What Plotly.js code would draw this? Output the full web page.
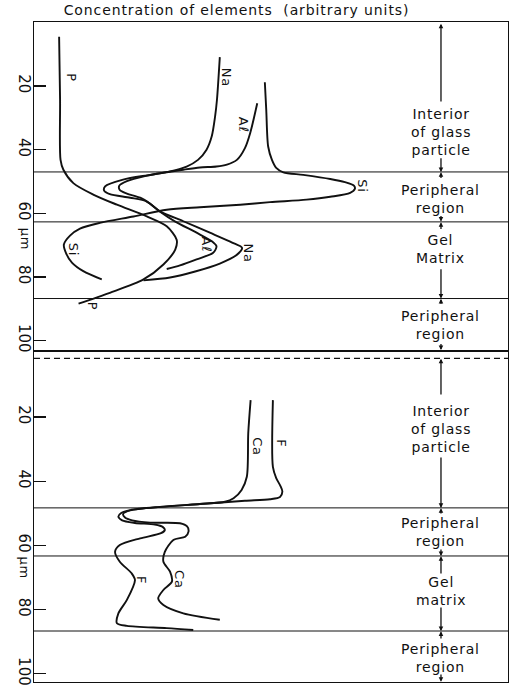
<!DOCTYPE html>
<html>
<head>
<meta charset="utf-8">
<script src="https://cdn.plot.ly/plotly-3.0.1.min.js"></script>
<style>
  html, body { margin: 0; padding: 0; background: #fff; }
  #chart { width: 516px; height: 688px; }
  text.gtitle { letter-spacing: 0.9px; }
  text.annotation-text { letter-spacing: 0.8px; }
</style>
</head>
<body>
<div id="chart"></div>
<script>
// ---------- DATA (concentration in arbitrary units, depth in µm) ----------
// Upper panel: P, Na, Al, Si
const P_conc  = [5.3,5.5,5.6,6.2,8.3,12.5,17.5,23.8,28.0,30.1,29.8,27.3,23.1,16.0,9.4];
const P_depth = [4.5,24.3,43.2,46.3,50.5,54.1,57.3,61.0,64.1,68.3,71.4,76.1,80.8,85.0,88.4];

const Na_conc  = [39.2,38.6,38.2,37.5,36.4,34.6,32.2,28.7,24.5,18.8,15.0,14.8,16.0,20.3,23.8,26.6,31.5,37.1,41.8,43.9,42.6,39.2,34.0,28.7,23.1];
const Na_depth = [10.9,24.3,29.6,35.8,40.0,43.2,45.3,46.8,47.9,49.4,51.5,52.9,54.0,55.1,56.3,59.4,62.5,66.1,69.2,70.9,73.3,75.8,78.3,80.2,81.1];

const Al_conc  = [47.1,45.6,44.5,42.8,40.7,38.5,35.0,31.5,28.0,23.4,19.6,18.0,18.1,19.6,22.4,24.5,26.6,29.8,34.3,37.6,38.5,37.8,34.3,30.8,28.0];
const Al_depth = [25.4,34.8,39.5,43.2,44.7,45.3,45.6,46.3,47.1,48.3,49.9,51.3,52.7,53.8,55.1,57.0,59.5,62.6,66.1,68.9,70.4,72.4,74.5,76.4,77.5];

const Si_conc  = [48.7,49.0,49.4,50.2,51.1,52.6,56.8,62.5,65.6,67.5,67.7,66.7,62.5,57.5,49.8,43.5,35.0,28.0,21.0,13.9,9.7,7.6,6.3,6.8,8.0,10.4,14.3];
const Si_depth = [18.8,27.5,39.0,43.2,45.7,47.1,47.9,49.2,50.2,51.3,52.3,53.6,54.8,55.7,56.5,57.3,58.1,58.9,61.0,63.0,64.8,67.0,69.8,72.7,75.5,78.2,80.8];

// Lower panel: Ca, F
const Ca_conc  = [45.7,45.2,44.9,43.8,42.1,40.3,35.0,26.6,20.3,18.8,19.2,20.7,24.5,30.8,32.3,32.6,31.9,29.4,27.6,27.3,28.7,29.1,27.3,26.2,27.3,31.5,39.2];
const Ca_depth = [14.7,25.0,38.6,42.7,45.3,46.4,47.1,48.0,49.1,50.2,51.3,52.2,52.9,53.1,54.1,55.7,57.3,58.3,62.0,65.1,68.2,71.3,73.9,76.5,78.6,81.2,83.2];

const F_conc  = [50.4,50.4,51.1,52.0,52.4,51.9,49.8,44.5,35.0,26.6,20.3,18.4,17.8,18.6,21.3,25.5,27.2,27.6,26.8,22.4,18.1,17.1,18.1,20.6,21.3,19.6,17.8,17.5,19.6,28.0,33.6];
const F_depth = [14.7,35.5,39.0,41.5,43.2,44.9,45.6,46.1,47.1,48.0,49.0,49.9,51.0,52.2,53.0,53.5,54.3,55.2,56.2,57.8,59.9,62.0,65.1,68.7,70.8,77.0,81.2,84.3,85.1,85.8,86.4];

// Region boundaries (µm)
const topBounds = [47.0, 62.7, 86.8];
const botBounds = [48.3, 63.3, 86.7];
const botStart  = 1.7;            // dashed line that opens the lower panel

// Tick values and texts
const depthTicks = [20, 40, 60, 80, 100];
const titleText = 'Concentration of elements \u00a0(arbitrary units)';

const regionTextsTop = ['Interior<br>of glass<br>particle', 'Peripheral<br>region', 'Gel<br>Matrix', 'Peripheral<br>region'];
const regionTextsBot = ['Interior<br>of glass<br>particle', 'Peripheral<br>region', 'Gel<br>matrix', 'Peripheral<br>region'];

// Curve labels: [text, conc, depth]
const labelsTop = [['P',7.9,17.4],['Na',40.5,17.4],['A\u2113',44.1,32.2],['Si',69.3,51.3],['Si',8.4,71.4],['A\u2113',36.5,69.8],['Na',45.2,72.4],['P',12.4,89.3]];
const labelsBot = [['Ca',47.0,29.3],['F',52.3,28.1],['F',22.8,70.8],['Ca',30.8,70.8]];

// ---------- LAYOUT CONSTANTS ----------
const FONT = 'DejaVu Sans, Verdana, sans-serif';
const BLACK = '#111';
const zoneX = 85.86;   // x of the dimension line (arbitrary-units scale)
const topTextY = [34.4, 55.5, 71.1, 95.0];
const botTextY = [23.7, 55.8, 74.2, 95.1];
const topArrows = [[0.4,25.3],[47.0,42.2],[47.1,49.4],[62.6,60.4],[62.8,65.4],[86.8,77.1],[86.9,88.9],[103.0,100.6]];
const botArrows = [[1.8,13.4],[48.3,32.1],[48.4,50.5],[63.3,60.8],[63.4,69.2],[86.7,78.9],[86.8,89.5],[102.5,99.8]];

function curve(xs, ys, xa, ya) {
  return { x: xs, y: ys, xaxis: xa, yaxis: ya, type: 'scatter', mode: 'lines',
           line: { color: BLACK, width: 1.9, shape: 'spline', smoothing: 0.8 },
           hoverinfo: 'skip', showlegend: false };
}

const data = [
  curve(P_conc, P_depth, 'x', 'y'),
  curve(Na_conc, Na_depth, 'x', 'y'),
  curve(Al_conc, Al_depth, 'x', 'y'),
  curve(Si_conc, Si_depth, 'x', 'y'),
  curve(Ca_conc, Ca_depth, 'x2', 'y2'),
  curve(F_conc, F_depth, 'x2', 'y2')
];

const shapes = [];
topBounds.forEach(b => shapes.push({ type: 'line', xref: 'paper', x0: 0, x1: 1, yref: 'y', y0: b, y1: b, line: { color: BLACK, width: 1 } }));
botBounds.forEach(b => shapes.push({ type: 'line', xref: 'paper', x0: 0, x1: 1, yref: 'y2', y0: b, y1: b, line: { color: BLACK, width: 1 } }));
shapes.push({ type: 'line', xref: 'paper', x0: 0, x1: 1, yref: 'y2', y0: botStart, y1: botStart, line: { color: BLACK, width: 1.2, dash: '6px,4px' } });

const annotations = [];
function regionTexts(texts, ys, xr, yr) {
  texts.forEach((t, i) => annotations.push({ text: t, x: zoneX, y: ys[i], xref: xr, yref: yr, showarrow: false,
    font: { family: FONT, size: 14, color: BLACK }, align: 'center', xanchor: 'center', yanchor: 'middle' }));
}
regionTexts(regionTextsTop, topTextY, 'x', 'y');
regionTexts(regionTextsBot, botTextY, 'x2', 'y2');

function arrows(list, xr, yr) {
  list.forEach(([head, tail]) => annotations.push({ text: '', x: zoneX, y: head, ax: zoneX, ay: tail,
    xref: xr, yref: yr, axref: xr, ayref: yr, showarrow: true, arrowhead: 2, arrowsize: 0.7,
    arrowwidth: 1.3, arrowcolor: BLACK, standoff: 0, startstandoff: 0 }));
}
arrows(topArrows, 'x', 'y');
arrows(botArrows, 'x2', 'y2');

function curveLabels(list, xr, yr) {
  list.forEach(([t, x, y]) => annotations.push({ text: t, x: x, y: y, xref: xr, yref: yr, showarrow: false,
    textangle: 90, font: { family: FONT, size: 13, color: BLACK }, xanchor: 'center', yanchor: 'middle' }));
}
curveLabels(labelsTop, 'x', 'y');
curveLabels(labelsBot, 'x2', 'y2');

// µm axis labels
annotations.push({ text: '\u03bcm', xref: 'paper', x: -0.019, yref: 'y', y: 68.3, showarrow: false, textangle: 90,
  font: { family: FONT, size: 13, color: BLACK }, xanchor: 'center', yanchor: 'middle' });
annotations.push({ text: '\u03bcm', xref: 'paper', x: -0.019, yref: 'y2', y: 67.2, showarrow: false, textangle: 90,
  font: { family: FONT, size: 13, color: BLACK }, xanchor: 'center', yanchor: 'middle' });

const xCommon = { range: [0, 100], showgrid: false, zeroline: false, showticklabels: false, ticks: '',
                  showline: true, mirror: true, linecolor: BLACK, linewidth: 1.3, fixedrange: true };
const yCommon = { showgrid: false, zeroline: false, showline: true, mirror: true, linecolor: BLACK, linewidth: 1.3,
                  ticks: 'inside', ticklen: 12, tickwidth: 1.4, tickcolor: BLACK, tickmode: 'array',
                  tickvals: depthTicks, ticktext: depthTicks.map(String), tickangle: 90, ticklabelstandoff: -4,
                  tickfont: { family: FONT, size: 15, color: BLACK }, fixedrange: true };

const layout = {
  width: 516, height: 688,
  margin: { l: 34, r: 8, t: 22, b: 6, pad: 0 },
  paper_bgcolor: '#fff', plot_bgcolor: '#fff',
  showlegend: false, hovermode: false,
  title: { text: titleText, x: 236.5 / 516, xref: 'container', xanchor: 'center', y: 0.985, yref: 'container', yanchor: 'middle',
           font: { family: FONT, size: 14, color: BLACK } },
  xaxis:  Object.assign({}, xCommon, { domain: [0, 1], anchor: 'y' }),
  xaxis2: Object.assign({}, xCommon, { domain: [0, 1], anchor: 'y2' }),
  yaxis:  Object.assign({}, yCommon, { domain: [0.5015, 1], range: [103.3, -0.15], anchor: 'x' }),
  yaxis2: Object.assign({}, yCommon, { domain: [0, 0.5015], range: [102.6, -0.62], anchor: 'x2' }),
  shapes: shapes,
  annotations: annotations
};

Plotly.newPlot('chart', data, layout, { displayModeBar: false, staticPlot: true });
</script>
</body>
</html>
